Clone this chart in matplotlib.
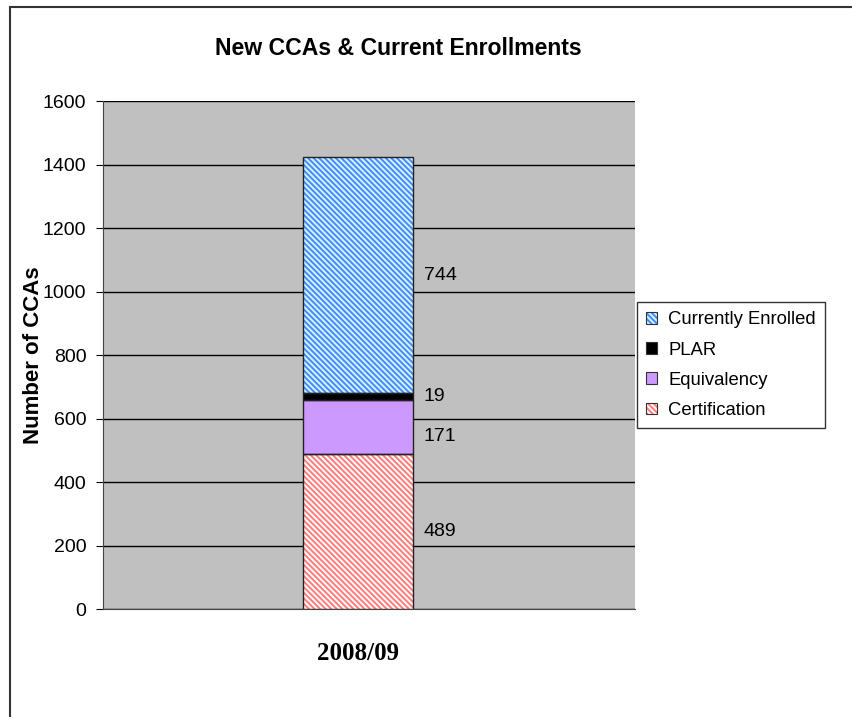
import matplotlib
matplotlib.use("Agg")
import matplotlib.pyplot as plt
from matplotlib.patches import Rectangle, Patch

# data
category = ["2008/09"]
series_names = ["Certification", "Equivalency", "PLAR", "Currently Enrolled"]
series_values = [489, 171, 19, 744]
label_values = ["489", "171", "19", "744"]

face_colors = ["white", "#CC99FF", "black", "#CCFFFF"]
hatch_colors = ["#FF8080", "#CC99FF", "black", "#5588FF"]
hatches = ["\\" * 6, None, None, "\\" * 6]

plt.rcParams['font.family'] = ['Liberation Sans', 'DejaVu Sans']
plt.rcParams['hatch.linewidth'] = 1.5

fig = plt.figure(figsize=(8.53, 7.17), dpi=100)
ax = fig.add_axes([0.1208, 0.1506, 0.7444 - 0.1208, 0.859 - 0.1506])
ax.set_facecolor("#C0C0C0")

bottom = 0
bar_w = 0.207
handles = []
for name, val, fc, hc, h in zip(series_names, series_values, face_colors, hatch_colors, hatches):
    ax.bar(0, val, width=bar_w, bottom=bottom, facecolor=fc, hatch=h,
           edgecolor=hc, linewidth=0, zorder=3)
    # black outline on top of the hatch
    ax.bar(0, val, width=bar_w, bottom=bottom, fill=False,
           edgecolor="#222222", linewidth=1.0, zorder=4)
    handles.append((Patch(facecolor=fc, edgecolor=hc, hatch=h, linewidth=0),
                    Patch(fill=False, edgecolor="#333333", linewidth=0.8)))
    bottom += val

# data labels next to each segment
bottom = 0
for val, txt in zip(series_values, label_values):
    y = bottom + val / 2
    if txt == "171":
        y -= 30
    ax.text(bar_w / 2 + 0.02, y, txt, fontsize=14, va="center", ha="left", zorder=5)
    bottom += val

ax.set_xlim(-0.479, 0.521)
ax.set_ylim(0, 1600)
ax.set_yticks(range(0, 1601, 200))
ax.tick_params(axis='y', labelsize=14, length=5, direction='out', pad=7)
ax.set_xticks([0])
ax.set_xticklabels(category, fontsize=18, fontweight='bold', family='Liberation Serif')
ax.tick_params(axis='x', length=0, pad=24)
ax.yaxis.grid(True, color="black", linewidth=1.0, zorder=1)
ax.set_axisbelow(True)
for s in ["top", "right"]:
    ax.spines[s].set_visible(False)
ax.spines["left"].set_color("#444444")
ax.spines["bottom"].set_color("#444444")

ax.set_ylabel("Number of CCAs", fontsize=16, fontweight='bold', labelpad=-1)
fig.text(0.467, 0.932, "New CCAs & Current Enrollments", fontsize=16.6,
         fontweight='bold', ha='center', va='center')

leg = fig.legend(handles[::-1], series_names[::-1], loc='upper left',
                 bbox_to_anchor=(637 / 853, 1 - 302 / 717), fontsize=13.3,
                 frameon=True, fancybox=False, edgecolor='black',
                 handlelength=0.6, handleheight=0.6, handletextpad=0.6,
                 borderpad=0.5, labelspacing=0.72, borderaxespad=0)
leg.get_frame().set_linewidth(1.0)

# outer chart border (cut off at right and bottom)
fig.patches.append(Rectangle((10 / 853, -0.2), 1.2, 1 - 7 / 717 + 0.2,
                             transform=fig.transFigure, fill=False,
                             edgecolor="#333333", linewidth=1.5))

fig.savefig("out.png", dpi=100)
